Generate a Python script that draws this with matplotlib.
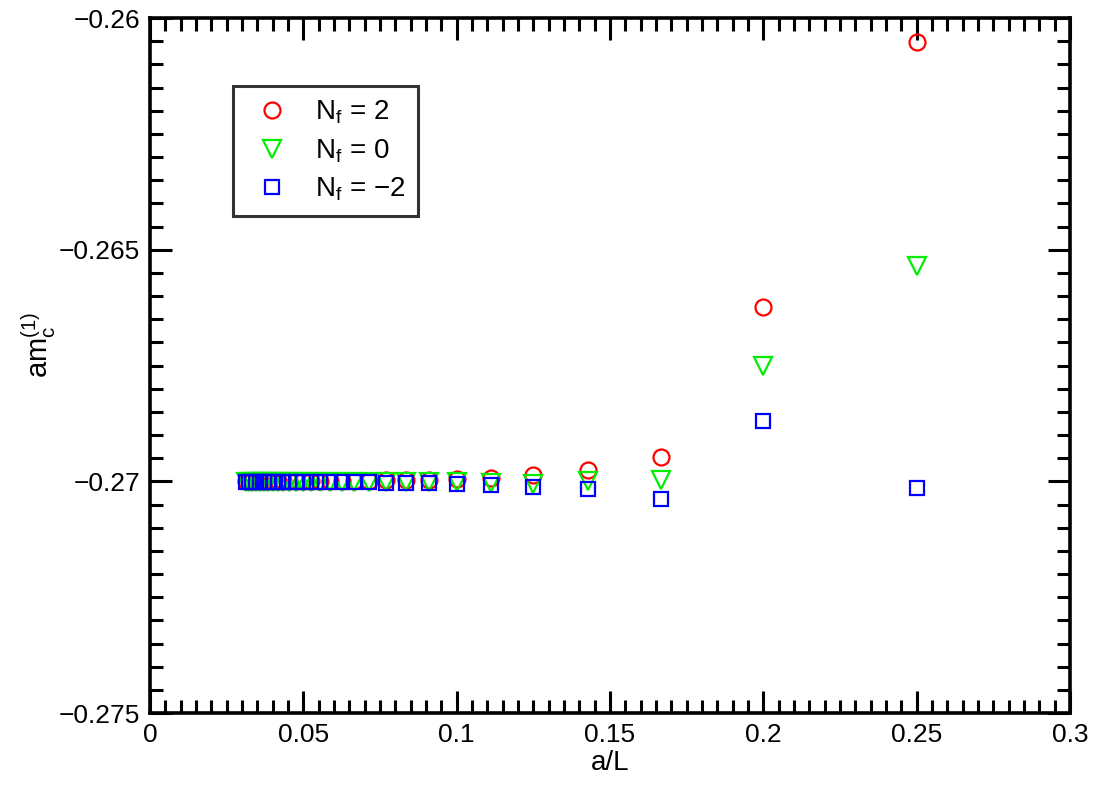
import numpy as np
import matplotlib.pyplot as plt
from matplotlib.ticker import MultipleLocator, FuncFormatter

plt.rcParams['font.family'] = ['Liberation Sans', 'DejaVu Sans']
plt.rcParams['mathtext.fontset'] = 'custom'
plt.rcParams['mathtext.rm'] = 'Liberation Sans'
plt.rcParams['mathtext.it'] = 'Liberation Sans'

# lattice sizes L/a, plotted against a/L
L_sizes = [4, 5, 6, 7, 8, 9, 10, 11, 12, 13, 14, 15, 16, 17, 18, 19, 20,
           21, 22, 23, 24, 25, 26, 27, 28, 29, 30, 31, 32]

amc_nf2 = [-0.26052, -0.26624, -0.26948, -0.26976, -0.26987, -0.26993, -0.26995,
           -0.26997, -0.26998, -0.26998, -0.26999, -0.26999, -0.26999, -0.26999,
           -0.27000, -0.27000, -0.27000, -0.27000, -0.27000, -0.27000, -0.27000,
           -0.27000, -0.27000, -0.27000, -0.27000, -0.27000, -0.27000, -0.27000, -0.27000]
amc_nf0 = [-0.26535, -0.26751, -0.26997, -0.26999, -0.27005, -0.27003, -0.27002,
           -0.27002, -0.27002, -0.27002, -0.27002, -0.27001, -0.27001, -0.27001,
           -0.27001, -0.27001, -0.27001, -0.27001, -0.27001, -0.27001, -0.27001,
           -0.27001, -0.27001, -0.27001, -0.27001, -0.27001, -0.27001, -0.27001, -0.27001]
amc_nfm2 = [-0.27015, -0.26870, -0.27037, -0.27017, -0.27012, -0.27007, -0.27005,
            -0.27004, -0.27003, -0.27003, -0.27002, -0.27002, -0.27002, -0.27002,
            -0.27001, -0.27001, -0.27001, -0.27001, -0.27001, -0.27001, -0.27001,
            -0.27001, -0.27001, -0.27001, -0.27001, -0.27001, -0.27001, -0.27001, -0.27001]

a_over_L = [1.0 / L for L in L_sizes]

fig = plt.figure(figsize=(10.95, 7.85), dpi=100)
ax = fig.add_axes([0.137, 0.0917, 0.8402, 0.8853])

ax.plot(a_over_L, amc_nf2, 'o', ls='none', mfc='none', mec='#ff0000', mew=1.6, ms=11.5,
        label=r'N$_\mathregular{f}$ = 2')
ax.plot(a_over_L, amc_nf0, 'v', ls='none', mfc='none', mec='#00ee00', mew=1.6, ms=12.5,
        label=r'N$_\mathregular{f}$ = 0')
ax.plot(a_over_L, amc_nfm2, 's', ls='none', mfc='none', mec='#0000ff', mew=1.6, ms=9.5,
        label=r'N$_\mathregular{f}$ = $-$2')

ax.set_xlim(0, 0.3)
ax.set_ylim(-0.275, -0.26)
ax.xaxis.set_major_locator(MultipleLocator(0.05))
ax.xaxis.set_minor_locator(MultipleLocator(0.005))
ax.yaxis.set_major_locator(MultipleLocator(0.005))
ax.yaxis.set_minor_locator(MultipleLocator(0.0005))

def fmt(v, pos):
    s = ('%.3f' % v).rstrip('0').rstrip('.')
    if s in ('-0', '0'):
        return '0'
    return s.replace('-', '\u2212')

ax.xaxis.set_major_formatter(FuncFormatter(fmt))
ax.yaxis.set_major_formatter(FuncFormatter(fmt))

ax.tick_params(which='both', direction='in', top=True, right=True, labelsize=19)
ax.tick_params(which='major', length=16, width=2.2, pad=7)
ax.tick_params(which='minor', length=9.5, width=2.2)
for sp in ax.spines.values():
    sp.set_linewidth(2.6)

ax.set_xlabel('a/L', fontsize=20, labelpad=2)
ax.set_ylabel(r'am$_\mathregular{c}^\mathregular{(1)}$', fontsize=21)
ax.yaxis.set_label_coords(-0.1, 0.53)

leg = ax.legend(loc='upper left', bbox_to_anchor=(0.090, 0.902), fontsize=20,
                frameon=True, fancybox=False, edgecolor='black', borderpad=0.45,
                labelspacing=0.4, handletextpad=0.6, handlelength=1.9, borderaxespad=0)
leg.get_frame().set_linewidth(2.2)

fig.savefig('out.png', dpi=100)
